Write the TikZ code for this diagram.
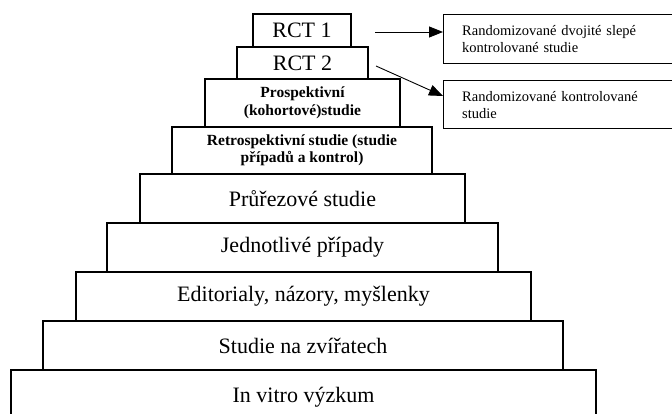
\documentclass[tikz,border=0pt]{standalone}
\usepackage{fontspec}
\setmainfont{Liberation Serif}
\usetikzlibrary{arrows.meta,calc}
\begin{document}
\begin{tikzpicture}[x=1pt,y=-1pt,
  tier/.style={draw=black,line width=1.4pt,rectangle,inner sep=0pt,align=center,font=\fontsize{22}{24}\selectfont},
  btier/.style={tier,font=\bfseries\fontsize{15.5}{17.5}\selectfont},
  note/.style={draw=black,line width=1.4pt,rectangle,inner sep=0pt,anchor=north west,align=left,text width=235pt,font=\fontsize{14.5}{17}\selectfont},
  link/.style={line width=0.9pt,-{Triangle[length=14pt,width=11pt]}}]
\useasboundingbox (0,0) rectangle (672,414);
\begin{scope}
\clip (0,0) rectangle (672,414);
\node[tier,minimum width=98pt,minimum height=33pt] (rct1) at (302,30.5) {RCT 1};
\node[tier,minimum width=131pt,minimum height=32pt] (rct2) at (302.5,63) {RCT 2};
\node[btier,minimum width=195pt,minimum height=48pt] (pro) at (302.5,103) {Prospektivní\\(kohortové)studie};
\node[btier,minimum width=260pt,minimum height=47pt] (ret) at (302,150.5) {Retrospektivní studie (studie\\případů a kontrol)};
\node[tier,minimum width=325pt,minimum height=49pt] (pru) at (302.5,198.5) {Průřezové studie};
\node[tier,minimum width=391pt,minimum height=49pt] (jed) at (302.5,247.5) {Jednotlivé případy};
\node[tier,minimum width=455pt,minimum height=49pt] (edi) at (303.5,296.5) {Editorialy, názory, myšlenky};
\node[tier,minimum width=520pt,minimum height=49pt] (zvi) at (303,345.5) {Studie na zvířatech};
\node[tier,minimum width=585pt,minimum height=54pt] (vit) at (303.5,397) {In vitro výzkum};
\node[note,minimum width=240pt,minimum height=49pt] (r1) at (443,14) {\hspace*{16pt}Randomizované dvojité slepé\\\hspace*{16pt}kontrolované studie};
\node[note,minimum width=240pt,minimum height=48pt] (r2) at (443,80) {\hspace*{16pt}Randomizované kontrolované\\\hspace*{16pt}studie};
\end{scope}
\coordinate (s1) at (375,32);
\coordinate (s2) at (376,66);
\coordinate (e2) at ($(r2.north west)+(0,16)$);
\draw[link] (s1) -- (s1 -| r1.west);
\draw[link] (s2) -- (e2);
\end{tikzpicture}
\end{document}
